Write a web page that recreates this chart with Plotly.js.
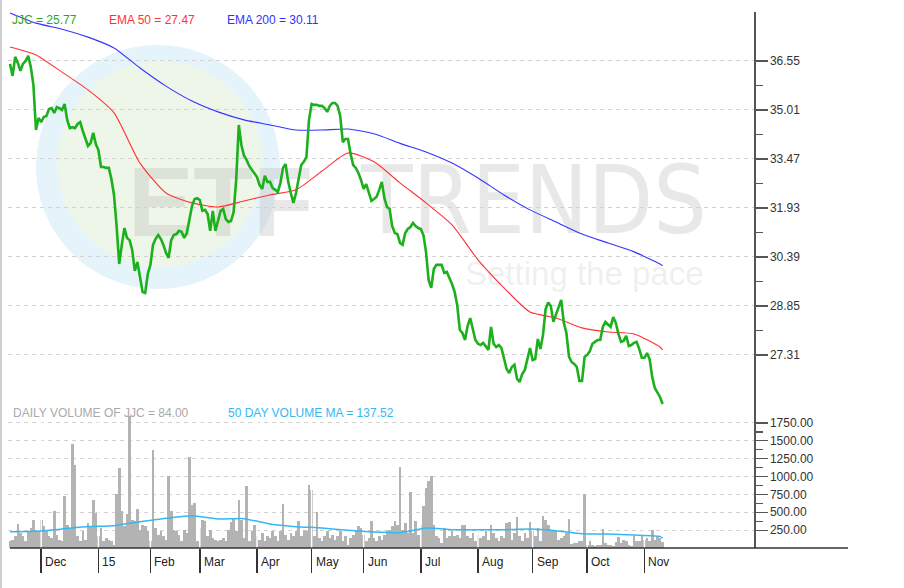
<!DOCTYPE html>
<html><head><meta charset="utf-8">
<script src="https://cdn.plot.ly/plotly-3.0.1.min.js"></script>
<style>html,body{margin:0;padding:0;background:#fff;overflow:hidden}#chart{width:904px;height:588px}</style>
</head><body><div id="chart"></div>
<script>
// ---- data ----
const monthLabels = ["Dec","15","Feb","Mar","Apr","May","Jun","Jul","Aug","Sep","Oct","Nov"];
const monthDays = [12,34,54,73,95,116,136,158,180,201,222,244]; // trading-day index of each month start

const jjcClose = [
36.46,36.08,36.68,36.49,36.24,36.46,36.55,36.71,36.36,35.80,
34.38,34.76,34.63,34.79,34.82,35.04,35.07,34.92,35.10,35.07,
35.01,35.20,34.70,34.44,34.47,34.44,34.57,34.63,34.35,34.10,
33.88,33.97,34.29,33.94,33.75,33.22,33.22,33.19,33.19,32.84,
32.34,31.36,30.17,30.77,31.30,30.99,30.92,30.61,29.95,30.23,
29.76,29.29,29.26,29.86,30.14,30.77,30.96,31.08,30.96,30.77,
30.52,30.36,30.92,31.08,31.11,31.21,31.18,30.99,31.14,31.58,
31.99,32.21,32.24,32.18,31.84,31.87,31.74,31.21,31.84,31.21,
31.49,31.84,31.90,31.58,31.49,31.52,31.80,32.81,34.54,33.91,
33.57,33.44,33.25,33.12,33.03,32.90,32.65,32.53,32.94,32.75,
32.75,32.56,32.50,32.43,32.72,33.19,33.31,32.75,32.40,32.09,
32.40,32.81,33.28,33.38,33.53,34.70,35.20,35.17,35.17,35.14,
35.14,35.07,34.95,35.14,35.23,35.23,35.14,34.82,34.00,34.10,
34.10,33.63,33.28,33.19,33.03,32.81,32.53,32.68,32.43,32.15,
32.21,32.28,32.50,32.75,32.24,31.96,31.90,31.36,31.14,31.11,
30.83,30.77,31.14,31.27,31.33,31.46,31.36,31.30,31.27,31.08,
30.55,29.67,29.42,30.01,30.14,30.14,30.14,29.89,29.92,29.73,
29.54,29.29,28.88,28.10,28.00,27.78,28.22,28.47,28.10,27.78,
27.66,27.62,27.69,27.59,27.47,28.19,27.66,27.56,27.62,27.53,
27.22,26.87,26.74,26.93,27.00,26.56,26.46,26.71,26.84,27.22,
27.53,27.15,27.18,27.81,27.50,27.94,28.75,28.96,28.85,28.35,
28.57,28.82,29.04,28.32,28.00,27.25,27.09,27.03,26.93,26.49,
26.49,27.25,27.31,27.43,27.66,27.72,27.78,27.78,28.19,28.35,
28.28,28.19,28.50,28.32,27.97,27.72,27.75,27.91,27.59,27.62,
27.69,27.72,27.50,27.22,27.22,27.37,27.18,26.62,26.27,26.12,
25.99,25.77];

const emaDays = [0,10,20,30,40,50,60,70,80,90,100,110,120,130,140,150,160,170,180,190,200,210,220,230,240,250,251];
const ema50 = [36.99,36.74,36.20,35.64,34.92,33.34,32.40,32.09,31.96,32.15,32.34,32.50,33.09,33.66,33.38,32.72,32.09,31.40,30.30,29.42,28.66,28.47,28.16,28.03,27.97,27.56,27.47];
const ema200 = [38.06,37.74,37.55,37.30,36.96,36.33,35.76,35.29,34.95,34.70,34.54,34.38,34.38,34.41,34.26,33.96,33.69,33.34,32.87,32.34,31.87,31.49,31.11,30.83,30.55,30.17,30.11];

const dailyVolume = [
93,117,163,336,210,163,93,243,280,397,
257,233,397,303,257,163,140,523,187,117,
93,723,327,280,1456,1167,163,93,233,117,
350,303,677,490,163,280,93,140,117,93,
47,756,1120,513,303,480,1850,397,373,551,
257,327,303,233,93,1377,280,187,233,163,
117,1003,513,257,233,187,93,257,210,1270,
607,630,93,280,397,373,163,257,140,117,
93,117,140,93,257,364,420,233,667,397,
140,863,93,233,327,163,117,210,93,163,
140,233,163,93,233,616,187,117,210,163,
233,373,163,257,233,887,817,163,504,140,
93,163,233,140,187,117,163,233,93,163,
47,140,187,233,303,280,187,93,140,373,
140,93,163,117,187,233,257,303,373,327,
1129,257,350,210,779,210,373,187,327,583,
840,933,1003,327,163,140,70,280,140,163,
233,163,187,140,317,317,163,140,210,93,
187,140,163,233,117,317,210,140,93,163,
140,350,364,117,210,429,163,93,210,140,
364,233,163,280,93,443,397,327,257,243,
243,117,140,163,210,411,56,70,70,93,
93,756,47,103,47,23,47,47,266,70,
47,47,23,84,149,70,117,93,47,23,
163,93,93,163,117,140,93,247,117,163,
140,84];
const volumeMA50 = [228,235,266,300,312,368,415,450,406,411,336,299,280,247,224,215,280,257,257,257,266,243,200,196,182,163,137.52];

const priceTicks = [27.31,28.85,30.39,31.93,33.47,35.01,36.55];
const priceMinorTicks = [28.08,29.62,31.16,32.70,34.24,35.78];
const volumeTicks = [250,500,750,1000,1250,1500,1750];
const volumeMinorTicks = [375,625,875,1125,1375,1625];

// ---- chart ----
const days = jjcClose.map((_, i) => i);
const last = a => a[a.length - 1];
const FONT = 'Liberation Sans, Arial, sans-serif';

const sepX = [], sepY = [];
monthDays.forEach(m => { sepX.push(m, m, null); sepY.push(0, 1932, null); });

const traces = [
  {type:'bar', x:days, y:dailyVolume, xaxis:'x', yaxis:'y2', marker:{color:'#b3b3b3', line:{width:0}}, hoverinfo:'skip'},
  {type:'scatter', mode:'lines', x:sepX, y:sepY, xaxis:'x', yaxis:'y2', line:{color:'#ffffff', width:1.5}, hoverinfo:'skip'},
  {type:'scatter', mode:'lines', x:emaDays, y:volumeMA50, xaxis:'x', yaxis:'y2', line:{color:'#33b8f2', width:1.5, shape:'spline', smoothing:0.5}, hoverinfo:'skip'},
  {type:'scatter', mode:'lines', x:emaDays, y:ema200, xaxis:'x', yaxis:'y', line:{color:'#3434ff', width:1.1, shape:'spline', smoothing:0.6}, hoverinfo:'skip'},
  {type:'scatter', mode:'lines', x:emaDays, y:ema50, xaxis:'x', yaxis:'y', line:{color:'#ff3232', width:1.1, shape:'spline', smoothing:0.6}, hoverinfo:'skip'},
  {type:'scatter', mode:'lines', x:days, y:jjcClose, xaxis:'x', yaxis:'y', line:{color:'#1cb01c', width:2.6}, hoverinfo:'skip'}
];

const annotations = [];
monthLabels.forEach((t, k) => annotations.push({
  text:t, x:monthDays[k], xref:'x', y:-0.026, yref:'paper', xanchor:'left', yanchor:'middle',
  xshift:2, showarrow:false, font:{family:FONT, size:12, color:'#222'}
}));
const legendItems = [
  {text:`JJC = ${last(jjcClose).toFixed(2)}`, x:0.0027, y:0.985, color:'#22aa22'},
  {text:`EMA 50 = ${last(ema50).toFixed(2)}`, x:0.1327, y:0.985, color:'#ff3333'},
  {text:`EMA 200 = ${last(ema200).toFixed(2)}`, x:0.2909, y:0.985, color:'#3333ff'},
  {text:`DAILY VOLUME OF JJC = ${last(dailyVolume).toFixed(2)}`, x:0.0040, y:0.2519, color:'#aaaaaa'},
  {text:`50 DAY VOLUME MA = ${last(volumeMA50).toFixed(2)}`, x:0.2922, y:0.2519, color:'#33b8f2'}
];
legendItems.forEach(l => annotations.push({
  text:l.text, x:l.x, y:l.y, xref:'paper', yref:'paper', xanchor:'left', yanchor:'middle',
  showarrow:false, font:{family:FONT, size:12, color:l.color}
}));

const shapes = [
  // watermark logo circles
  {type:'circle', xref:'paper', yref:'paper', x0:0.0375, x1:0.3646, y0:0.4832, y1:0.9384, fillcolor:'#e5f3fb', line:{width:0}, layer:'below'},
  {type:'circle', xref:'paper', yref:'paper', x0:0.0657, x1:0.3418, y0:0.5243, y1:0.9086, fillcolor:'#edf6e8', line:{width:0}, layer:'below'},
  // watermark words
  {type:'rect', xref:'paper', yref:'paper', x0:0.1568, x1:0.4115, y0:0.597, y1:0.7276, line:{width:0}, fillcolor:'rgba(0,0,0,0)', layer:'below',
   label:{text:'ETF', textposition:'middle left', padding:0, font:{family:FONT, size:98, weight:'bold', color:'rgba(185,185,185,0.33)'}}},
  {type:'rect', xref:'paper', yref:'paper', x0:0.4692, x1:0.9276, y0:0.597, y1:0.7276, line:{width:0}, fillcolor:'rgba(0,0,0,0)', layer:'below',
   label:{text:'TRENDS', textposition:'middle left', padding:0, font:{family:'Liberation Sans Narrow, DejaVu Sans Condensed, Arial Narrow, sans-serif', size:94, color:'rgba(185,185,185,0.33)'}}},
  {type:'rect', xref:'paper', yref:'paper', x0:0.6086, x1:0.941, y0:0.4907, y1:0.5466, line:{width:0}, fillcolor:'rgba(0,0,0,0)', layer:'below',
   label:{text:'Setting the pace', textposition:'middle left', padding:0, font:{family:FONT, size:33, color:'rgba(185,185,185,0.22)'}}},
  // frame lines
  {type:'line', xref:'paper', yref:'paper', x0:0.0027, x1:1.126, y0:0, y1:0, line:{color:'#333', width:1.5}},
  {type:'line', xref:'paper', yref:'paper', x0:-0.0094, x1:-0.0094, y0:-0.08, y1:1.03, line:{color:'#cfcfcf', width:2}}
];

const axisCommon = {
  side:'right', anchor:'x', showline:true, linecolor:'#555', linewidth:1.5,
  ticks:'outside', ticklen:12, tickwidth:1.2, tickcolor:'#555',
  tickformat:'.2f', tickfont:{family:FONT, size:12, color:'#333'},
  showgrid:true, gridcolor:'#d2d2d2', griddash:'4px,4px', gridwidth:1, zeroline:false, fixedrange:true
};

const layout = {
  width:904, height:588, autosize:false,
  margin:{l:8, r:150, t:12, b:40, pad:0},
  paper_bgcolor:'#ffffff', plot_bgcolor:'rgba(0,0,0,0)',
  showlegend:false, hovermode:false, bargap:0,
  font:{family:FONT, size:12, color:'#333'},
  xaxis:{domain:[0,1], range:[-0.77,286.15], anchor:'y2', showgrid:false, zeroline:false, showline:false,
    ticks:'outside', ticklen:24, tickwidth:1.5, tickcolor:'#333', tickmode:'array', tickvals:monthDays,
    showticklabels:false, fixedrange:true},
  yaxis:Object.assign({}, axisCommon, {domain:[0.2575,1], range:[25.58,38.09], tickmode:'array', tickvals:priceTicks,
    minor:{tickmode:'array', tickvals:priceMinorTicks, ticks:'outside', ticklen:7, tickcolor:'#555', tickwidth:1.2, showgrid:false}}),
  yaxis2:Object.assign({}, axisCommon, {domain:[0,0.2575], range:[0,1932], tickmode:'array', tickvals:volumeTicks,
    minor:{tickmode:'array', tickvals:volumeMinorTicks, ticks:'outside', ticklen:7, tickcolor:'#555', tickwidth:1.2, showgrid:false}}),
  annotations:annotations, shapes:shapes
};

Plotly.newPlot('chart', traces, layout, {staticPlot:true, displayModeBar:false});
</script>
</body></html>
